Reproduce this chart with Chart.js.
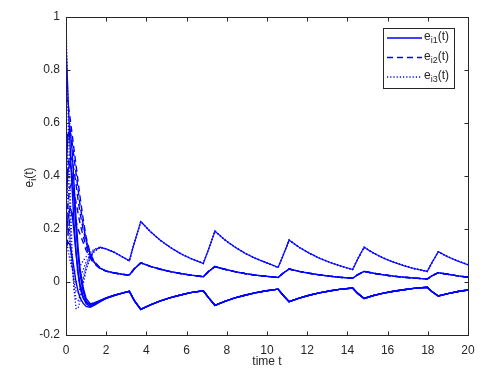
<!DOCTYPE html>
<html>
<head>
<meta charset="utf-8">
<script src="https://cdn.jsdelivr.net/npm/chart.js@4/dist/chart.umd.min.js"></script>
<style>
  html, body { margin: 0; padding: 0; background: #fff; }
  canvas { display: block; }
</style>
</head>
<body>
<canvas id="errChart" width="489" height="378"></canvas>
<script>
// time samples: transient part (per agent) and shared tail after convergence
const tHead = [0, 0.05, 0.1, 0.2, 0.3, 0.4, 0.5, 0.6, 0.7, 0.85, 1.0, 1.2, 1.4, 1.7, 2.0, 2.4, 2.8];
const tTail = [3.15, 3.4, 3.72, 4.2, 4.7, 5.2, 5.7, 6.2, 6.83, 7.1, 7.41, 7.9, 8.4, 8.9, 9.4, 9.9,
               10.55, 10.8, 11.1, 11.6, 12.1, 12.6, 13.1, 13.6, 14.26, 14.5, 14.83, 15.3, 15.8, 16.3,
               16.8, 17.3, 17.97, 18.2, 18.52, 19.0, 19.5, 20.0];

// e_i1(t), one row per agent (transient)
const e1Head = [
    [0.90, 0.80, 0.70, 0.52, 0.36, 0.22, 0.11, 0.03, -0.02, -0.06, -0.078, -0.084, -0.079, -0.069, -0.060, -0.050, -0.042],
    [0.40, 0.49, 0.55, 0.58, 0.50, 0.37, 0.24, 0.13, 0.05, -0.02, -0.062, -0.082, -0.080, -0.070, -0.060, -0.050, -0.042],
    [0.28, 0.36, 0.42, 0.45, 0.41, 0.31, 0.20, 0.10, 0.03, -0.035, -0.072, -0.088, -0.083, -0.071, -0.061, -0.050, -0.042],
    [0.15, 0.20, 0.24, 0.28, 0.26, 0.19, 0.11, 0.04, -0.01, -0.055, -0.082, -0.092, -0.086, -0.073, -0.062, -0.051, -0.042],
    [0.12, 0.14, 0.15, 0.14, 0.10, 0.05, 0.00, -0.035, -0.06, -0.08, -0.092, -0.095, -0.088, -0.074, -0.062, -0.051, -0.042]
];
// e_i2(t)
const e2Head = [
    [0.70, 0.69, 0.67, 0.62, 0.56, 0.50, 0.44, 0.38, 0.32, 0.24, 0.17, 0.110, 0.078, 0.053, 0.041, 0.034, 0.029],
    [0.50, 0.54, 0.57, 0.57, 0.53, 0.47, 0.41, 0.35, 0.29, 0.22, 0.16, 0.105, 0.076, 0.052, 0.041, 0.034, 0.029],
    [0.33, 0.39, 0.44, 0.48, 0.46, 0.42, 0.37, 0.31, 0.26, 0.20, 0.15, 0.100, 0.074, 0.052, 0.041, 0.034, 0.029],
    [0.20, 0.25, 0.30, 0.36, 0.37, 0.34, 0.30, 0.26, 0.22, 0.175, 0.135, 0.095, 0.072, 0.051, 0.041, 0.034, 0.029],
    [0.10, 0.14, 0.18, 0.24, 0.26, 0.25, 0.23, 0.20, 0.18, 0.15, 0.12, 0.090, 0.070, 0.050, 0.041, 0.034, 0.029]
];
// e_i3(t)
const e3Head = [
    [1.00, 0.82, 0.64, 0.36, 0.12, -0.03, -0.10, -0.10, -0.07, -0.01, 0.045, 0.090, 0.115, 0.130, 0.125, 0.112, 0.095],
    [0.65, 0.53, 0.42, 0.22, 0.07, -0.02, -0.065, -0.07, -0.05, 0.00, 0.050, 0.092, 0.116, 0.130, 0.125, 0.112, 0.095],
    [0.45, 0.38, 0.30, 0.17, 0.06, 0.00, -0.035, -0.04, -0.025, 0.015, 0.060, 0.098, 0.118, 0.131, 0.125, 0.112, 0.095],
    [0.30, 0.26, 0.21, 0.13, 0.06, 0.02, 0.00, 0.00, 0.015, 0.045, 0.075, 0.105, 0.121, 0.131, 0.125, 0.112, 0.095],
    [0.18, 0.15, 0.12, 0.08, 0.05, 0.04, 0.04, 0.05, 0.06, 0.08, 0.095, 0.112, 0.124, 0.132, 0.125, 0.112, 0.095]
];

// shared tails (all agents coincide)
const e1Tail = [-0.035, -0.070, -0.103, -0.086, -0.071, -0.059, -0.049, -0.040, -0.033, -0.060, -0.088,
                -0.073, -0.060, -0.050, -0.041, -0.034, -0.027, -0.050, -0.074, -0.061, -0.050, -0.041,
                -0.034, -0.028, -0.023, -0.042, -0.062, -0.051, -0.042, -0.035, -0.029, -0.024, -0.020,
                -0.036, -0.053, -0.044, -0.036, -0.030];
const e2Tail = [0.026, 0.050, 0.072, 0.059, 0.048, 0.039, 0.032, 0.026, 0.020, 0.040, 0.058,
                0.048, 0.039, 0.032, 0.026, 0.022, 0.017, 0.033, 0.049, 0.040, 0.033, 0.027,
                0.022, 0.018, 0.014, 0.027, 0.040, 0.033, 0.027, 0.022, 0.018, 0.015, 0.011,
                0.023, 0.035, 0.029, 0.023, 0.018];
const e3Tail = [0.080, 0.148, 0.228, 0.190, 0.157, 0.130, 0.107, 0.089, 0.070, 0.125, 0.192,
                0.159, 0.132, 0.109, 0.090, 0.075, 0.055, 0.100, 0.158, 0.131, 0.109, 0.090,
                0.075, 0.062, 0.047, 0.085, 0.131, 0.109, 0.090, 0.075, 0.062, 0.051, 0.040,
                0.072, 0.114, 0.095, 0.079, 0.065];

const xTicks = [0, 2, 4, 6, 8, 10, 12, 14, 16, 18, 20];
const yTicks = [-0.2, 0, 0.2, 0.4, 0.6, 0.8, 1];
const yTickLabels = ['-0.2', '0', '0.2', '0.4', '0.6', '0.8', '1'];

const BLUE = '#0000ff';
const AXIS = '#262626';
const FONT = '"Liberation Sans", Arial, sans-serif';

const styles = [
    { sub: 'i1', dash: [] },
    { sub: 'i2', dash: [6, 4] },
    { sub: 'i3', dash: [1.2, 2] }
];

const times = tHead.concat(tTail);
const datasets = [];
[[e1Head, e1Tail], [e2Head, e2Tail], [e3Head, e3Tail]].forEach(([heads, tail], c) => {
    heads.forEach((head, k) => {
        const vals = head.concat(tail);
        datasets.push({
            label: 'e' + styles[c].sub + '(t) #' + (k + 1),
            data: times.map((t, j) => ({ x: t, y: vals[j] })),
            borderColor: BLUE,
            borderWidth: c === 2 ? 1.3 : 1.4,
            borderDash: styles[c].dash,
            pointRadius: 0,
            tension: 0,
            fill: false
        });
    });
});

function subText(ctx, x, y, base, sub, tail, size) {
    ctx.font = size + 'px ' + FONT;
    ctx.fillText(base, x, y);
    x += ctx.measureText(base).width;
    ctx.font = Math.round(size * 0.72) + 'px ' + FONT;
    ctx.fillText(sub, x, y + size * 0.3);
    x += ctx.measureText(sub).width;
    ctx.font = size + 'px ' + FONT;
    ctx.fillText(tail, x, y);
}

const decor = {
    id: 'decor',
    afterDraw(chart) {
        const { ctx, chartArea: a, scales: { x, y } } = chart;
        ctx.save();
        ctx.strokeStyle = AXIS;
        ctx.lineWidth = 1;
        ctx.setLineDash([]);
        const L = Math.round(a.left) + 0.5, R = Math.round(a.right) + 0.5;
        const T = Math.round(a.top) + 0.5, B = Math.round(a.bottom) + 0.5;
        ctx.strokeRect(L, T, R - L, B - T);
        ctx.beginPath();
        xTicks.forEach(v => {
            const px = Math.round(x.getPixelForValue(v)) + 0.5;
            ctx.moveTo(px, B); ctx.lineTo(px, B - 4);
            ctx.moveTo(px, T); ctx.lineTo(px, T + 4);
        });
        yTicks.forEach(v => {
            const py = Math.round(y.getPixelForValue(v)) + 0.5;
            ctx.moveTo(L, py); ctx.lineTo(L + 4, py);
            ctx.moveTo(R, py); ctx.lineTo(R - 4, py);
        });
        ctx.stroke();

        // axis titles
        ctx.fillStyle = AXIS;
        ctx.textBaseline = 'middle';
        ctx.textAlign = 'center';
        ctx.font = '12px ' + FONT;
        ctx.fillText('time t', (a.left + a.right) / 2, 362);

        ctx.save();
        ctx.translate(30, (a.top + a.bottom) / 2);
        ctx.rotate(-Math.PI / 2);
        ctx.textAlign = 'left';
        ctx.font = '12px ' + FONT;
        const w = ctx.measureText('e').width + ctx.measureText('(t)').width + 5;
        subText(ctx, -w / 2, 0, 'e', 'i', '(t)', 12);
        ctx.restore();

        // legend box
        const bx = 383.5, by = 28.5, bw = 71, bh = 60;
        ctx.fillStyle = '#fff';
        ctx.fillRect(bx, by, bw, bh);
        ctx.strokeRect(bx, by, bw, bh);
        styles.forEach((s, i) => {
            const ly = 38 + i * 19.5;
            ctx.strokeStyle = BLUE;
            ctx.lineWidth = 1.4;
            ctx.setLineDash(s.dash);
            ctx.beginPath();
            ctx.moveTo(387, ly); ctx.lineTo(422, ly);
            ctx.stroke();
            ctx.setLineDash([]);
            ctx.fillStyle = AXIS;
            ctx.textAlign = 'left';
            subText(ctx, 424, ly - 1, 'e', s.sub, '(t)', 12);
        });
        ctx.restore();
    }
};

new Chart(document.getElementById('errChart').getContext('2d'), {
    type: 'line',
    data: { datasets: datasets },
    options: {
        responsive: false,
        animation: false,
        devicePixelRatio: 1,
        layout: { padding: { left: 0, right: 21, top: 17, bottom: 0 } },
        plugins: {
            legend: { display: false },
            tooltip: { enabled: false }
        },
        scales: {
            x: {
                type: 'linear',
                min: 0,
                max: 20,
                afterBuildTicks: s => { s.ticks = xTicks.map(v => ({ value: v })); },
                afterFit: s => { s.height = 43; },
                grid: { display: false, drawTicks: false },
                border: { display: false },
                ticks: {
                    color: AXIS,
                    font: { family: FONT, size: 12 },
                    padding: 8,
                    maxRotation: 0,
                    callback: v => String(v)
                }
            },
            y: {
                type: 'linear',
                min: -0.2,
                max: 1,
                afterBuildTicks: s => { s.ticks = yTicks.map(v => ({ value: v })); },
                afterFit: s => { s.width = 66; },
                grid: { display: false, drawTicks: false },
                border: { display: false },
                ticks: {
                    color: AXIS,
                    font: { family: FONT, size: 12 },
                    padding: 6,
                    callback: (v, i) => yTickLabels[i]
                }
            }
        }
    },
    plugins: [decor]
});
</script>
</body>
</html>
